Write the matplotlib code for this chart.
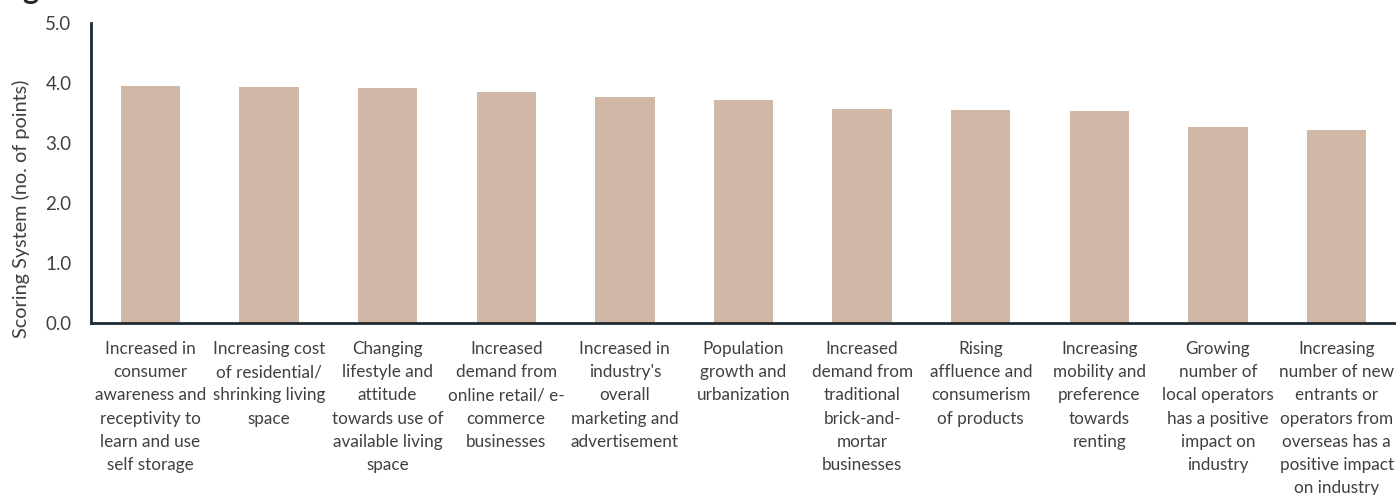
import matplotlib
matplotlib.use("Agg")
import matplotlib.pyplot as plt

plt.rcParams["font.family"] = ["Lato", "DejaVu Sans"]

categories = [
    "Increased in\nconsumer\nawareness and\nreceptivity to\nlearn and use\nself storage",
    "Increasing cost\nof residential/\nshrinking living\nspace",
    "Changing\nlifestyle and\nattitude\ntowards use of\navailable living\nspace",
    "Increased\ndemand from\nonline retail/ e-\ncommerce\nbusinesses",
    "Increased in\nindustry's\noverall\nmarketing and\nadvertisement",
    "Population\ngrowth and\nurbanization",
    "Increased\ndemand from\ntraditional\nbrick-and-\nmortar\nbusinesses",
    "Rising\naffluence and\nconsumerism\nof products",
    "Increasing\nmobility and\npreference\ntowards\nrenting",
    "Growing\nnumber of\nlocal operators\nhas a positive\nimpact on\nindustry",
    "Increasing\nnumber of new\nentrants or\noperators from\noverseas has a\npositive impact\non industry",
]
scores = [3.95, 3.93, 3.92, 3.85, 3.77, 3.72, 3.57, 3.55, 3.53, 3.27, 3.22]
y_ticks = [0.0, 1.0, 2.0, 3.0, 4.0, 5.0]

bar_color = "#d1b8a6"
axis_color = "#1f2a33"
text_color = "#404040"

fig = plt.figure(figsize=(13.96, 4.95), dpi=100)
ax = fig.add_axes([91 / 1396, 1 - 323 / 495, (1396 - 91) / 1396, 300 / 495])

x = range(len(categories))
ax.bar(x, scores, width=0.5, color=bar_color, edgecolor="none", zorder=2)

ax.set_xlim(-0.5, len(categories) - 0.5)
ax.set_ylim(0, 5)
ax.set_yticks(y_ticks)
ax.set_yticklabels([f"{v:.1f}" for v in y_ticks], fontsize=13.5, color=text_color)
ax.set_xticks(list(x))
ax.set_xticklabels(categories, fontsize=12.3, color=text_color, linespacing=1.55,
                   va="top")
ax.tick_params(axis="both", length=0)
ax.tick_params(axis="x", pad=13)
ax.tick_params(axis="y", pad=14)

for side in ("top", "right"):
    ax.spines[side].set_visible(False)
for side in ("left", "bottom"):
    ax.spines[side].set_color(axis_color)
    ax.spines[side].set_linewidth(2)

ax.set_ylabel("Scoring System (no. of points)", fontsize=14.3, color=text_color)
ax.yaxis.set_label_coords(-0.047, 0.38)

# Title sits above the visible canvas; only its descender shows.
fig.text(22 / 1396, 1.0 + 1 / 495, "g", fontsize=22, fontweight="bold",
         color=axis_color, va="baseline", ha="left")

fig.savefig("out.png", dpi=100)
